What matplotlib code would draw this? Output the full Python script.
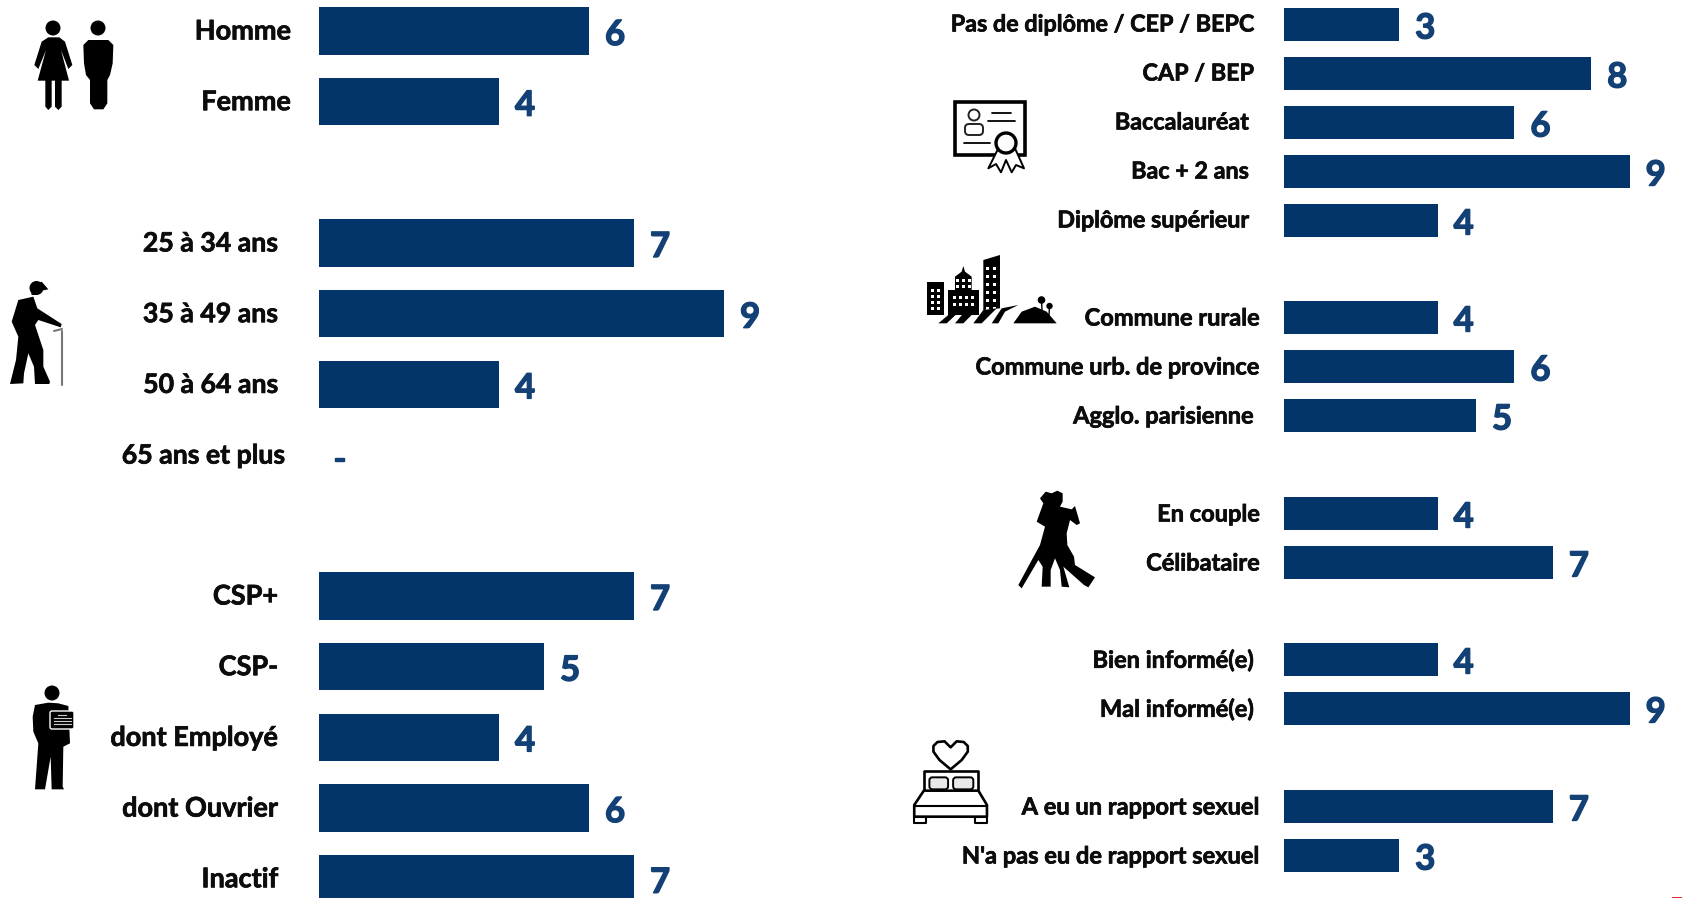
import matplotlib
matplotlib.use('Agg')
import matplotlib.pyplot as plt
import matplotlib.patheffects as pe
from matplotlib.patches import Circle, Polygon, Rectangle, FancyBboxPatch

W, H = 1682, 898
BAR = '#03356a'
NUM = '#134075'

# data
sexe_labels = ['Homme', 'Femme']
sexe_values = [6, 4]
age_labels = ['25 à 34 ans', '35 à 49 ans', '50 à 64 ans', '65 ans et plus']
age_values = [7, 9, 4, 0]
csp_labels = ['CSP+', 'CSP-', 'dont Employé', 'dont Ouvrier', 'Inactif']
csp_values = [7, 5, 4, 6, 7]
diplome_labels = ['Pas de diplôme / CEP / BEPC', 'CAP / BEP', 'Baccalauréat', 'Bac + 2 ans', 'Diplôme supérieur']
diplome_values = [3, 8, 6, 9, 4]
commune_labels = ['Commune rurale', 'Commune urb. de province', 'Agglo. parisienne']
commune_values = [4, 6, 5]
couple_labels = ['En couple', 'Célibataire']
couple_values = [4, 7]
info_labels = ['Bien informé(e)', 'Mal informé(e)']
info_values = [4, 9]
rapport_labels = ['A eu un rapport sexuel', "N'a pas eu de rapport sexuel"]
rapport_values = [7, 3]

plt.rcParams['font.family'] = ['Lato', 'DejaVu Sans']
fig = plt.figure(figsize=(W / 100, H / 100), dpi=100)


def fatten(txt, width, color):
    # Lato bold is lighter than the original face
    txt.set_path_effects([pe.withStroke(linewidth=width, foreground=color)])


def draw_group(labels, values, x0, top, pitch, h, ppu, label_right, num_off, fs):
    n = len(labels)
    y_top = top - pitch / 2
    height = n * pitch
    width = W - x0
    ax = fig.add_axes([x0 / W, 1 - (y_top + height) / H, width / W, height / H])
    ax.set_xlim(0, width / ppu)
    ax.set_ylim(n - 0.5, -0.5)
    ax.axis('off')
    ax.patch.set_alpha(0)
    ax.barh(range(n), values, height=h / pitch, color=BAR, clip_on=False)
    for i, (lab, v) in enumerate(zip(labels, values)):
        t = ax.text((label_right[i] - x0) / ppu, i + 0.5 / pitch, lab, ha='right', va='center',
                    fontsize=fs, fontweight='bold', color='#0c0c0c', clip_on=False)
        fatten(t, 0.5, '#0c0c0c')
        if v == 0:
            t = ax.text(21 / ppu, i + 5 / pitch, '-', ha='center', va='center', fontsize=25,
                        fontweight='bold', color=NUM, clip_on=False)
        else:
            t = ax.text(v + num_off / ppu, i + 4 / pitch, str(v), ha='left', va='center', fontsize=25,
                        fontweight='bold', color=NUM, clip_on=False)
        fatten(t, 1.0, NUM)


draw_group(sexe_labels, sexe_values, 319, 31, 70.7, 47.5, 45, [291, 291], 16, 19.5)
draw_group(age_labels, age_values, 319, 243, 70.7, 47.5, 45, [278, 278, 278, 285], 16, 19.2)
draw_group(csp_labels, csp_values, 319, 596, 70.7, 47.5, 45, [278, 278, 278, 278, 278], 16, 19.5)
draw_group(diplome_labels, diplome_values, 1284, 24.5, 49, 32.5, 38.4, [1254, 1254, 1249, 1249, 1249], 16, 16.8)
draw_group(commune_labels, commune_values, 1284, 317.5, 49, 32.5, 38.4, [1260, 1260, 1254], 16, 17)
draw_group(couple_labels, couple_values, 1284, 513.5, 49, 32.5, 38.4, [1260, 1260], 16, 17)
draw_group(info_labels, info_values, 1284, 659.5, 49, 32.5, 38.4, [1254, 1254], 16, 17)
draw_group(rapport_labels, rapport_values, 1284, 806.5, 49, 32.5, 38.4, [1260, 1260], 16, 17)

# pictograms on a pixel overlay
ov = fig.add_axes([0, 0, 1, 1])
ov.set_xlim(0, W)
ov.set_ylim(H, 0)
ov.axis('off')
ov.patch.set_alpha(0)


def poly(pts, ox=0, oy=0, sx=1 / 3, sy=1 / 3, fc='black', ec='none', lw=0, **kw):
    xy = [(ox + x * sx, oy + y * sy) for x, y in pts]
    ov.add_patch(Polygon(xy, closed=True, fc=fc, ec=ec, lw=lw, joinstyle='round', **kw))


def circ(x, y, r, fc='black', ec='none', lw=0):
    ov.add_patch(Circle((x, y), r, fc=fc, ec=ec, lw=lw))


def rect(x0, y0, x1, y1, fc='black', ec='none', lw=0):
    ov.add_patch(Rectangle((x0, y0), x1 - x0, y1 - y0, fc=fc, ec=ec, lw=lw))


def seg(x0, y0, x1, y1, lw=1.5, color='black'):
    ov.plot([x0, x1], [y0, y1], color=color, lw=lw, solid_capstyle='round')


# femme / homme
circ(53, 28, 7.5)
poly([(125, 125), (145, 112), (178, 112), (195, 125), (217, 195), (205, 207), (183, 150), (207, 242), (185, 242),
      (185, 320), (175, 330), (165, 320), (165, 242), (155, 242), (155, 320), (145, 330), (136, 320), (136, 242),
      (113, 242), (138, 150), (115, 207), (103, 195)])
circ(98, 28, 7.5)
poly([(250, 135), (265, 120), (325, 120), (340, 135), (338, 190), (330, 225), (322, 240), (322, 310), (310, 328),
      (282, 328), (270, 310), (270, 240), (258, 225), (252, 190)])

# vieil homme
circ(36.5, 288, 7)
poly([(90, 860), (125, 845), (145, 868), (125, 872), (110, 885), (95, 885)])
poly([(55, 900), (100, 890), (112, 925), (185, 972), (182, 982), (115, 960), (105, 975), (130, 1050), (130, 1100),
      (150, 1145), (148, 1152), (105, 1152), (102, 1100), (85, 1060), (72, 1120), (70, 1150), (30, 1152), (48, 1080),
      (55, 1010), (35, 965)])
seg(62.5, 331, 62.5, 385, lw=1.5, color='#777777')
seg(54, 331, 62, 329, lw=1.5, color='#777777')

# actif
circ(52, 693, 7.5)
poly([(105, 435), (145, 428), (175, 430), (205, 438), (210, 550), (190, 560), (188, 680), (192, 688), (155, 688),
      (152, 590), (135, 688), (105, 688), (115, 550), (100, 515), (98, 470)], oy=560)
ov.add_patch(FancyBboxPatch((50, 711), 24, 18, boxstyle='round,pad=0,rounding_size=2', fc='black', ec='white', lw=1,
                            zorder=3))
for yy, xa, xb in [(715, 58, 66), (718, 54, 71), (721, 54, 71), (724, 54, 71)]:
    ov.plot([xa, xb], [yy, yy], color='#cccccc', lw=0.8, zorder=4)

# diplome
ox, oy = 900, 60
rect(ox + 55, oy + 42, ox + 125, oy + 95, fc='white', ec='black', lw=2.6)
ov.add_patch(Circle((ox + 74, oy + 55), 5.5, fc='white', ec='#222222', lw=1.4))
ov.add_patch(FancyBboxPatch((ox + 65, oy + 64), 18, 11, boxstyle='round,pad=0,rounding_size=4', fc='white',
                            ec='#222222', lw=1.4))
seg(ox + 92, oy + 53, ox + 111, oy + 53, lw=1.3)
seg(ox + 88, oy + 61, ox + 115, oy + 61, lw=1.3)
seg(ox + 64, oy + 83, ox + 90, oy + 83, lw=1.3)
poly([(295, 265), (265, 325), (288, 312), (303, 337), (318, 300), (335, 337), (348, 315), (372, 325), (345, 265)],
     ox, oy, fc='white', ec='black', lw=1.4)
ov.add_patch(Circle((ox + 106, oy + 83), 10, fc='white', ec='black', lw=2.4))

# ville
rect(ox + 27, oy + 222, ox + 44, oy + 255)
for i in range(4):
    for j in range(2):
        rect(ox + 31 + j * 6, oy + 229 + i * 6, ox + 34 + j * 6, oy + 232 + i * 6, fc='white')
rect(ox + 48, oy + 230, ox + 79, oy + 255)
poly([(165, 690), (165, 650), (185, 635), (190, 618), (195, 635), (215, 650), (215, 690)], ox, oy)
for i in range(2):
    for j in range(3):
        rect(ox + 56 + j * 6, oy + 219 + i * 6, ox + 59 + j * 6, oy + 222 + i * 6, fc='white')
for i in range(2):
    for j in range(4):
        rect(ox + 53 + j * 6, oy + 236 + i * 7, ox + 56 + j * 6, oy + 239 + i * 7, fc='white')
poly([(250, 600), (300, 585), (300, 745), (250, 750)], ox, oy)
for i in range(6):
    for j in range(2):
        rect(ox + 86 + j * 7, oy + 207 + i * 8, ox + 89 + j * 7, oy + 210 + i * 8, fc='white')
poly([(115, 790), (145, 765), (170, 762), (140, 790)], ox, oy)
poly([(165, 790), (190, 760), (225, 755), (190, 790)], ox, oy)
poly([(220, 790), (250, 750), (290, 745), (245, 790)], ox, oy)
poly([(275, 790), (305, 745), (355, 735), (315, 755), (295, 790)], ox, oy)
poly([(340, 790), (365, 755), (405, 740), (440, 755), (470, 790)], ox, oy)
circ(ox + 141.5, oy + 240, 3.8)
circ(ox + 149.5, oy + 246, 3.2)
seg(ox + 141.5, oy + 240, ox + 142, oy + 250, lw=1)
seg(ox + 149.5, oy + 246, ox + 149, oy + 255, lw=1)

# danseurs
ox, oy = 980, 470
poly([(180, 85), (197, 65), (215, 70), (232, 62), (248, 70), (248, 95), (240, 110), (275, 118), (285, 108), (300, 160),
      (290, 165), (270, 150), (260, 190), (262, 225), (282, 260), (285, 285), (345, 322), (325, 352), (312, 345),
      (250, 290), (268, 352), (245, 350), (240, 300), (225, 265), (212, 300), (212, 350), (185, 350), (188, 290),
      (175, 270), (125, 355), (115, 345), (150, 280), (180, 225), (195, 170), (170, 155), (190, 100)], ox, oy)

# lit
ox, oy = 890, 720
sx, sy = 1 / 1.98, 1 / 3
heart = [(120, 148), (98, 120), (86, 95), (86, 78), (94, 66), (108, 64), (120, 82), (132, 64), (146, 66), (154, 78),
         (154, 95), (142, 120)]
poly(heart, ox, oy, sx, sy, fc='white', ec='black', lw=1.9)
poly([(67, 152), (175, 152), (175, 212), (67, 212)], ox, oy, sx, sy, fc='white', ec='black', lw=1.9)
ov.add_patch(FancyBboxPatch((ox + 78 * sx, oy + 172 * sy), 37 * sx, 36 * sy, boxstyle='round,pad=0,rounding_size=3',
                            fc='#e8e8e8', ec='black', lw=1.4))
ov.add_patch(FancyBboxPatch((ox + 125 * sx, oy + 172 * sy), 40 * sx, 36 * sy, boxstyle='round,pad=0,rounding_size=3',
                            fc='#e8e8e8', ec='black', lw=1.4))
poly([(67, 212), (175, 212), (192, 255), (192, 290), (48, 290), (48, 255)], ox, oy, sx, sy, fc='white', ec='black',
     lw=1.9)
seg(ox + 48 * sx, oy + 257 * sy, ox + 192 * sx, oy + 257 * sy, lw=1.5)
poly([(48, 290), (72, 290), (72, 308), (48, 308)], ox, oy, sx, sy, fc='white', ec='black', lw=1.5)
poly([(168, 290), (192, 290), (192, 308), (168, 308)], ox, oy, sx, sy, fc='white', ec='black', lw=1.5)

# petit reste rouge dans le coin
rect(1672, 896.5, 1682, 898, fc='#e2322d')

fig.savefig('out.png', dpi=100)
